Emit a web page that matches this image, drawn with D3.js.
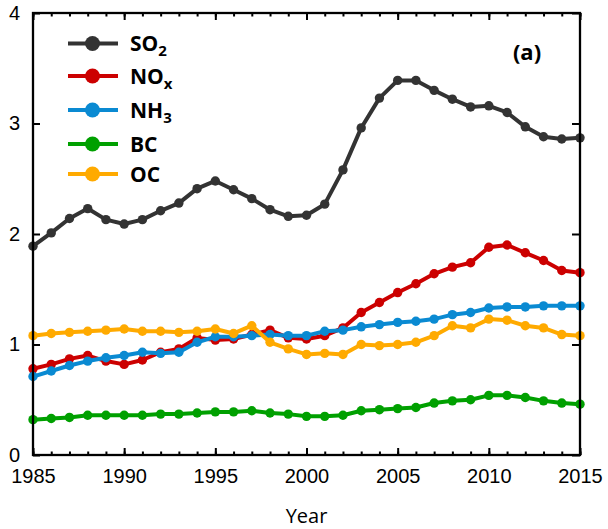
<!DOCTYPE html>
<html>
<head>
<meta charset="utf-8">
<script src="https://cdn.jsdelivr.net/npm/d3@7"></script>
<style>
  body { margin: 0; background: #fff; }
  svg { font-family: "Open Sans", sans-serif; }
</style>
</head>
<body>
<div class="chart"></div>
<script>
var years = d3.range(1985, 2016);
var so2 = [1.89, 2.01, 2.14, 2.23, 2.13, 2.09, 2.13, 2.21, 2.28, 2.41, 2.48, 2.40, 2.32, 2.22, 2.16, 2.17,
    2.27, 2.58, 2.96, 3.23, 3.39, 3.39, 3.30, 3.22, 3.15, 3.16, 3.10, 2.97, 2.88, 2.86, 2.87];
var nox = [0.78, 0.82, 0.87, 0.90, 0.85, 0.82, 0.86, 0.93, 0.96, 1.06, 1.04, 1.05, 1.09, 1.13, 1.06, 1.05,
    1.08, 1.15, 1.29, 1.38, 1.47, 1.55, 1.64, 1.70, 1.74, 1.88, 1.90, 1.83, 1.76, 1.67, 1.65];
var nh3 = [0.71, 0.76, 0.81, 0.85, 0.88, 0.90, 0.93, 0.92, 0.93, 1.02, 1.07, 1.07, 1.08, 1.09, 1.08, 1.08,
    1.12, 1.13, 1.16, 1.18, 1.20, 1.21, 1.23, 1.27, 1.29, 1.33, 1.34, 1.34, 1.35, 1.35, 1.35];
var bc = [0.32, 0.33, 0.34, 0.36, 0.36, 0.36, 0.36, 0.37, 0.37, 0.38, 0.39, 0.39, 0.40, 0.38, 0.37, 0.35,
    0.35, 0.36, 0.40, 0.41, 0.42, 0.43, 0.47, 0.49, 0.50, 0.54, 0.54, 0.52, 0.49, 0.47, 0.46];
var oc = [1.08, 1.10, 1.11, 1.12, 1.13, 1.14, 1.12, 1.12, 1.11, 1.12, 1.14, 1.10, 1.17, 1.02, 0.96, 0.91,
    0.92, 0.91, 1.00, 0.99, 1.00, 1.02, 1.08, 1.17, 1.15, 1.23, 1.22, 1.17, 1.15, 1.09, 1.08];
var seriesNames = ['SO', 'NO', 'NH', 'BC', 'OC'];
var seriesSubs = ['2', 'x', '3', '', ''];
var seriesColors = ['#333333', '#cc0000', '#0a8ad2', '#00a000', '#ffaa00'];
var seriesValues = [so2, nox, nh3, bc, oc];
var yTicks = [0, 1, 2, 3, 4];
var xLabels = [1985, 1990, 1995, 2000, 2005, 2010, 2015];

var margin = { top: 13, right: 28, bottom: 74, left: 33 };
var width = 608 - margin.left - margin.right;
var height = 529 - margin.top - margin.bottom;

var svg = d3.select('.chart')
    .append('svg')
    .attr('width', 608)
    .attr('height', 529)
    .append('g')
    .attr('transform', 'translate(' + margin.left + ', ' + margin.top + ')');

var xScale = d3.scaleLinear().domain([1985, 2015]).range([0, width]);
var yScale = d3.scaleLinear().domain([0, 4]).range([height, 0]);

// series
var line = d3.line()
    .x((d, i) => xScale(years[i]))
    .y(d => yScale(d));

seriesValues.forEach((vals, k) => {
    var g = svg.append('g');
    g.append('path')
        .datum(vals)
        .attr('d', line)
        .attr('fill', 'none')
        .attr('stroke', seriesColors[k])
        .attr('stroke-width', 4)
        .attr('stroke-linejoin', 'round');
    g.selectAll('circle')
        .data(vals)
        .enter()
        .append('circle')
        .attr('cx', (d, i) => xScale(years[i]))
        .attr('cy', d => yScale(d))
        .attr('r', 4.7)
        .attr('fill', seriesColors[k]);
});

// axes (ticks inside)
var axisStyle = g => {
    g.select('.domain').remove();
    g.selectAll('line').attr('stroke', '#000').attr('stroke-width', 2);
    g.selectAll('text').style('font-size', '20px').attr('fill', '#000');
};

svg.append('g')
    .attr('transform', `translate(0, ${height})`)
    .call(d3.axisBottom(xScale).tickValues(years).tickSize(-3.5).tickFormat(''))
    .call(axisStyle);
svg.append('g')
    .attr('transform', `translate(0, ${height})`)
    .call(d3.axisBottom(xScale).tickValues(xLabels).tickSize(-7).tickPadding(14).tickFormat(d3.format('d')))
    .call(axisStyle);
svg.append('g')
    .call(d3.axisTop(xScale).tickValues(years).tickSize(-3.5).tickFormat(''))
    .call(axisStyle);
svg.append('g')
    .call(d3.axisTop(xScale).tickValues(xLabels).tickSize(-7).tickFormat(''))
    .call(axisStyle);
svg.append('g')
    .call(d3.axisLeft(yScale).tickValues(yTicks).tickSize(-7).tickPadding(13).tickFormat(d3.format('d')))
    .call(axisStyle);
svg.append('g')
    .attr('transform', `translate(${width}, 0)`)
    .call(d3.axisRight(yScale).tickValues(yTicks).tickSize(-8).tickFormat(''))
    .call(axisStyle);

svg.append('rect')
    .attr('width', width)
    .attr('height', height)
    .attr('fill', 'none')
    .attr('stroke', '#000')
    .attr('stroke-width', 2.3);

svg.append('text')
    .attr('x', width / 2)
    .attr('y', 510)
    .attr('text-anchor', 'middle')
    .style('font-size', '20px')
    .text('Year');

svg.append('text')
    .attr('x', 494)
    .attr('y', 47)
    .attr('text-anchor', 'middle')
    .style('font-size', '22px')
    .style('font-weight', 'bold')
    .text('(a)');

// legend
var legendY = [30.5, 63, 97, 131, 161];
var legend = svg.selectAll('.leg')
    .data(seriesNames)
    .enter()
    .append('g')
    .attr('class', 'leg')
    .attr('transform', (d, i) => `translate(35, ${legendY[i]})`);

legend.append('line')
    .attr('x1', 0)
    .attr('x2', 50)
    .attr('stroke', (d, i) => seriesColors[i])
    .attr('stroke-width', 4);
legend.append('circle')
    .attr('cx', 24.5)
    .attr('r', 7.5)
    .attr('fill', (d, i) => seriesColors[i]);

var lt = legend.append('text')
    .attr('x', 62)
    .attr('y', 7.5)
    .style('font-size', '21px')
    .style('font-weight', 'bold');
lt.append('tspan').text(d => d);
lt.append('tspan')
    .attr('dy', 5)
    .style('font-size', '15px')
    .text((d, i) => seriesSubs[i]);
</script>
</body>
</html>
